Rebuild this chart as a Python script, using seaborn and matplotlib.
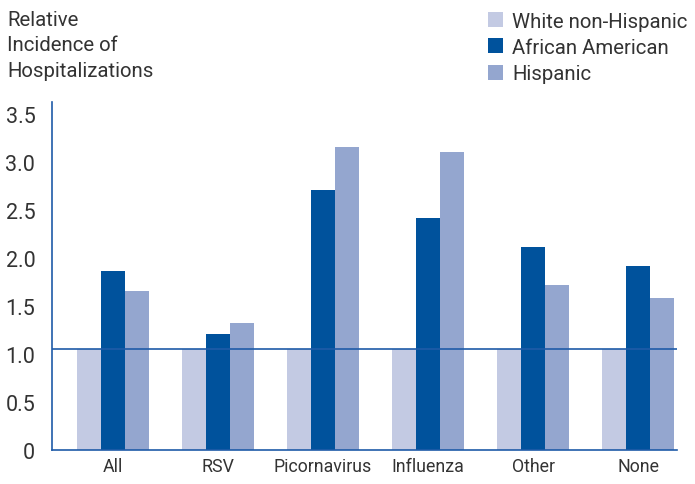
import matplotlib
matplotlib.use('Agg')
import matplotlib.pyplot as plt
import seaborn as sns
import pandas as pd

categories = ["All", "RSV", "Picornavirus", "Influenza", "Other", "None"]
groups = ["White non-Hispanic", "African American", "Hispanic"]
white = [1.05, 1.05, 1.05, 1.05, 1.05, 1.05]
african_american = [1.86, 1.21, 2.70, 2.41, 2.11, 1.91]
hispanic = [1.65, 1.32, 3.15, 3.10, 1.72, 1.58]
yticks = [0, 0.5, 1.0, 1.5, 2.0, 2.5, 3.0, 3.5]
ytick_labels = ["0", "0.5", "1.0", "1.5", "2.0", "2.5", "3.0", "3.5"]

colors = ["#c3cae3", "#00529c", "#94a6cf"]
blue = "#1f5ba8"
text_color = "#333333"

df = pd.DataFrame({
    "category": categories * 3,
    "group": [groups[0]] * 6 + [groups[1]] * 6 + [groups[2]] * 6,
    "value": white + african_american + hispanic,
})

sns.set_style("white")
plt.rcParams['font.family'] = ['Roboto', 'DejaVu Sans']

fig = plt.figure(figsize=(6.95, 4.85), dpi=100)
ax = fig.add_axes([0.0748, 0.0701, 0.8992, 0.7175])

sns.barplot(data=df, x="category", y="value", hue="group", hue_order=groups,
            order=categories, palette=colors, width=0.69, gap=0,
            saturation=1, linewidth=0, ax=ax)

# reference line at the white non-Hispanic level
ax.axhline(white[0], color=blue, lw=1.2, zorder=3)

ax.set_xlim(-0.58, 5.37)
ax.set_ylim(0, 3.62)
ax.set_yticks(yticks)
ax.set_yticklabels(ytick_labels)
ax.set_xlabel("")
ax.set_ylabel("")
ax.tick_params(axis="x", length=0, labelsize=12.8, colors=text_color, pad=5)
ax.tick_params(axis="y", length=0, labelsize=15.5, colors=text_color, pad=12)

for side in ["top", "right"]:
    ax.spines[side].set_visible(False)
for side in ["left", "bottom"]:
    ax.spines[side].set_color(blue)
    ax.spines[side].set_linewidth(1.2)

fig.text(0.010, 0.977, "Relative\nIncidence of\nHospitalizations", fontsize=14.7,
         color=text_color, va="top", ha="left", linespacing=1.42)

sns.move_legend(ax, "upper left", bbox_to_anchor=(0.687, 0.995),
                bbox_transform=fig.transFigure, frameon=False, title=None,
                fontsize=14.7, handlelength=0.75, handleheight=0.75,
                handletextpad=0.45, labelspacing=0.36, borderpad=0)
for t in ax.get_legend().get_texts():
    t.set_color(text_color)

fig.savefig("out.png", dpi=100)
